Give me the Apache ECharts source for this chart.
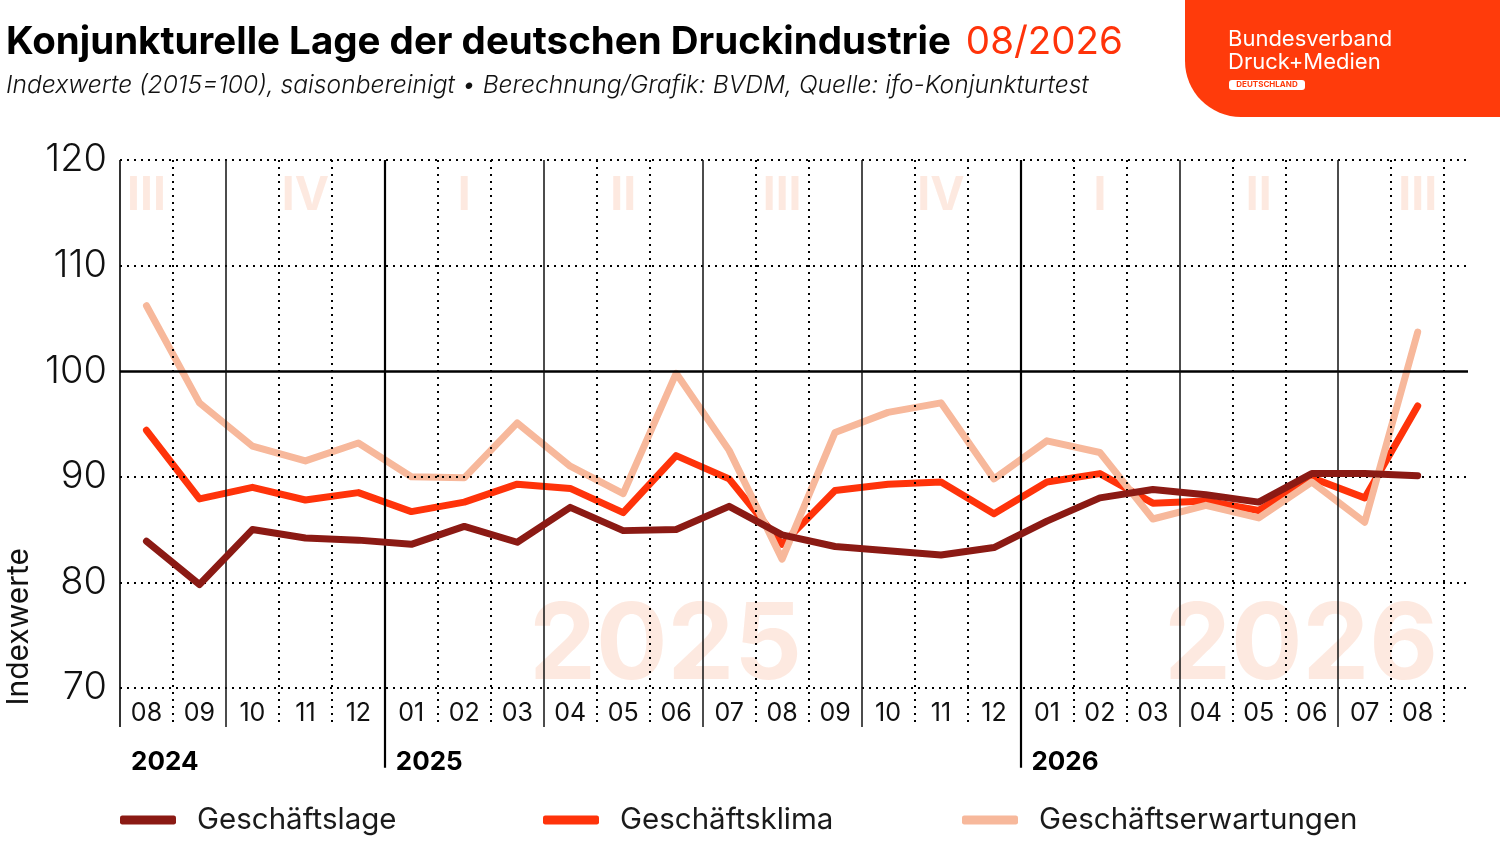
<!DOCTYPE html>
<html lang="de">
<head>
    <meta charset="UTF-8">
    <title>Konjunkturelle Lage der deutschen Druckindustrie</title>
    <script src="https://cdn.jsdelivr.net/npm/echarts@6/dist/echarts.min.js"></script>
    <style>
        html, body { margin: 0; padding: 0; background: #ffffff; }
        #main { width: 1500px; height: 844px; }
    </style>
</head>
<body>
<div id="main"></div>
<script type="text/javascript">
    // Monate 08/2024 - 08/2026
    var months = ['08','09','10','11','12','01','02','03','04','05','06','07','08','09','10','11','12','01','02','03','04','05','06','07','08'];
    var lage = [83.9, 79.8, 85.0, 84.2, 84.0, 83.6, 85.3, 83.8, 87.1, 84.9, 85.0, 87.2, 84.5, 83.4, 83.0, 82.6, 83.3, 85.8, 88.0, 88.8, 88.3, 87.6, 90.3, 90.3, 90.1];
    var klima = [94.4, 87.9, 89.0, 87.8, 88.5, 86.7, 87.6, 89.3, 88.9, 86.6, 92.0, 89.8, 83.6, 88.7, 89.3, 89.5, 86.5, 89.5, 90.3, 87.5, 87.7, 86.8, 89.9, 88.0, 96.7];
    var erwartungen = [106.2, 97.0, 92.9, 91.5, 93.2, 90.0, 89.9, 95.1, 91.0, 88.4, 99.8, 92.5, 82.2, 94.2, 96.1, 97.0, 89.8, 93.4, 92.3, 86.0, 87.3, 86.1, 89.5, 85.7, 103.7];

    var yTicks = [70, 80, 90, 100, 110, 120];
    var quarters = ['III', 'IV', 'I', 'II', 'III', 'IV', 'I', 'II', 'III'];
    var quarterPos = [0, 3, 6, 9, 12, 15, 18, 21, 24];          // mittlerer Monat des Quartals
    var years = ['2024', '2025', '2026'];
    var yearStart = [-0.5, 4.5, 16.5];
    var bigYears = ['2025', '2026'];
    var bigYearPos = [9.8, 21.8];
    var yearBounds = [5, 17];                                    // Jahreswechsel
    var quarterBounds = [2, 8, 11, 14, 20, 23];                  // Quartalswechsel

    var cLage = '#8b1a14';
    var cKlima = '#ff330a';
    var cErw = '#f7b89b';
    var cWater = '#fde4d8';
    var fontMain = 'Inter, "Noto Sans", sans-serif';

    function toPairs(arr) {
        return arr.map(function (v, i) { return [i, v]; });
    }

    // Gitterlinien
    var gridLines = [];
    yTicks.forEach(function (t) {
        gridLines.push({
            yAxis: t,
            lineStyle: t === 100
                ? { color: '#000', width: 2.5, type: 'solid' }
                : { color: '#000', width: 2, type: [2, 5] }
        });
    });
    for (var k = 0; k <= months.length; k++) {
        var style, yEnd = 66.3;
        if (k === 0) {
            style = { color: '#000', width: 1.6, type: 'solid' };
        } else if (yearBounds.indexOf(k) >= 0) {
            style = { color: '#000', width: 2.2, type: 'solid' };
            yEnd = 62.45;
        } else if (quarterBounds.indexOf(k) >= 0) {
            style = { color: '#111', width: 1.5, type: 'solid' };
        } else {
            style = { color: '#000', width: 2, type: [2, 5] };
        }
        gridLines.push([{ coord: [k - 0.5, 120], lineStyle: style }, { coord: [k - 0.5, yEnd] }]);
    }

    var textMarks = [];
    quarters.forEach(function (q, i) {
        textMarks.push({ name: q, value: [quarterPos[i], 116.6],
            label: { fontSize: 46, fontWeight: 'bold', color: cWater } });
    });
    bigYears.forEach(function (y, i) {
        textMarks.push({ name: y, value: [bigYearPos[i], 73.85],
            label: { fontSize: 106, fontWeight: 'bold', color: cWater } });
    });

    var chart = echarts.init(document.getElementById('main'));
    var option = {
        backgroundColor: '#ffffff',
        animation: false,
        textStyle: { fontFamily: fontMain },
        title: {
            left: 1,
            top: 18,
            text: '{a|Konjunkturelle Lage der deutschen Druckindustrie}{b|08/2026}',
            textStyle: {
                rich: {
                    a: { fontSize: 38.5, fontWeight: 'bold', color: '#000', fontFamily: fontMain },
                    b: { fontSize: 38.5, fontWeight: 'normal', color: cKlima, fontFamily: fontMain, padding: [0, 0, 0, 15] }
                }
            },
            subtext: 'Indexwerte (2015=100), saisonbereinigt \u2022 Berechnung/Grafik: BVDM, Quelle: ifo-Konjunkturtest',
            subtextStyle: { fontSize: 24.6, fontStyle: 'italic', fontWeight: 300, color: '#111', fontFamily: fontMain },
            itemGap: 11
        },
        legend: [
            { data: ['Geschäftslage'], left: 120, top: 805 },
            { data: ['Geschäftsklima'], left: 543, top: 805 },
            { data: ['Geschäftserwartungen'], left: 962, top: 805 }
        ].map(function (l) {
            l.icon = 'roundRect';
            l.itemWidth = 56;
            l.itemHeight = 9;
            l.padding = 0;
            l.selectedMode = false;
            l.textStyle = { fontSize: 29.5, color: '#1a1a1a', padding: [0, 0, 0, 16], fontFamily: fontMain };
            return l;
        }),
        grid: { left: 120, right: 32, top: 160, bottom: 74 },
        xAxis: [
            {
                type: 'value', min: -0.5, max: 24.95,
                position: 'bottom',
                offset: -77,
                axisLine: { show: false }, axisTick: { show: false }, splitLine: { show: false },
                axisLabel: {
                    customValues: months.map(function (m, i) { return i; }),
                    formatter: function (v) { return months[Math.round(v)]; },
                    fontSize: 25, color: '#111', margin: 8
                }
            },
            {
                type: 'value', min: -0.5, max: 24.95,
                position: 'bottom',
                offset: -27,
                axisLine: { show: false }, axisTick: { show: false }, splitLine: { show: false },
                axisLabel: {
                    customValues: yearStart,
                    formatter: function (v) { return years[yearStart.indexOf(v)]; },
                    fontSize: 26, fontWeight: 'bold', color: '#000', margin: 6,
                    align: 'left', padding: [0, 0, 0, 11]
                }
            }
        ],
        yAxis: {
            type: 'value', min: 62.23, max: 120,
            axisLine: { show: false }, axisTick: { show: false }, splitLine: { show: false },
            axisLabel: { customValues: yTicks, fontSize: 38, fontWeight: 300, color: '#111', margin: 13 }
        },
        graphic: [
            {
                type: 'text', left: 4, top: 548, rotation: Math.PI / 2,
                style: { text: 'Indexwerte', fontSize: 30, fill: '#111', fontFamily: fontMain }
            },
            {
                type: 'rect', shape: { x: 1185, y: -10, width: 330, height: 127, r: [0, 0, 0, 56] },
                style: { fill: '#ff3b0b' }
            },
            {
                type: 'text', x: 1228, y: 28,
                style: { text: 'Bundesverband\nDruck+Medien', fontSize: 22, lineHeight: 23, fill: '#fff', fontFamily: fontMain }
            },
            {
                type: 'rect', shape: { x: 1229, y: 80, width: 76, height: 10, r: 3 },
                style: { fill: '#fff' }
            },
            {
                type: 'text', x: 1267, y: 85,
                style: { text: 'DEUTSCHLAND', fontSize: 8, fontWeight: 'bold', fill: '#ff3b0b', align: 'center', verticalAlign: 'middle', fontFamily: fontMain }
            }
        ],
        series: [
            {
                name: 'Hintergrund',
                type: 'scatter',
                silent: true,
                z: 1,
                symbolSize: 1,
                itemStyle: { color: 'transparent' },
                label: { show: true, position: 'inside', formatter: '{b}', fontFamily: fontMain },
                data: textMarks,
                markLine: {
                    silent: true,
                    symbol: ['none', 'none'],
                    label: { show: false },
                    data: gridLines
                }
            },
            {
                name: 'Geschäftsklima',
                type: 'line', z: 3,
                color: cKlima,
                showSymbol: false,
                lineStyle: { color: cKlima, width: 7, cap: 'round', join: 'round' },
                data: toPairs(klima)
            },
            {
                name: 'Geschäftserwartungen',
                type: 'line', z: 4,
                color: cErw,
                showSymbol: false,
                lineStyle: { color: cErw, width: 7, cap: 'round', join: 'round' },
                data: toPairs(erwartungen)
            },
            {
                name: 'Geschäftslage',
                type: 'line', z: 5,
                color: cLage,
                showSymbol: false,
                lineStyle: { color: cLage, width: 7, cap: 'round', join: 'round' },
                data: toPairs(lage)
            }
        ]
    };
    chart.setOption(option);
</script>
</body>
</html>
